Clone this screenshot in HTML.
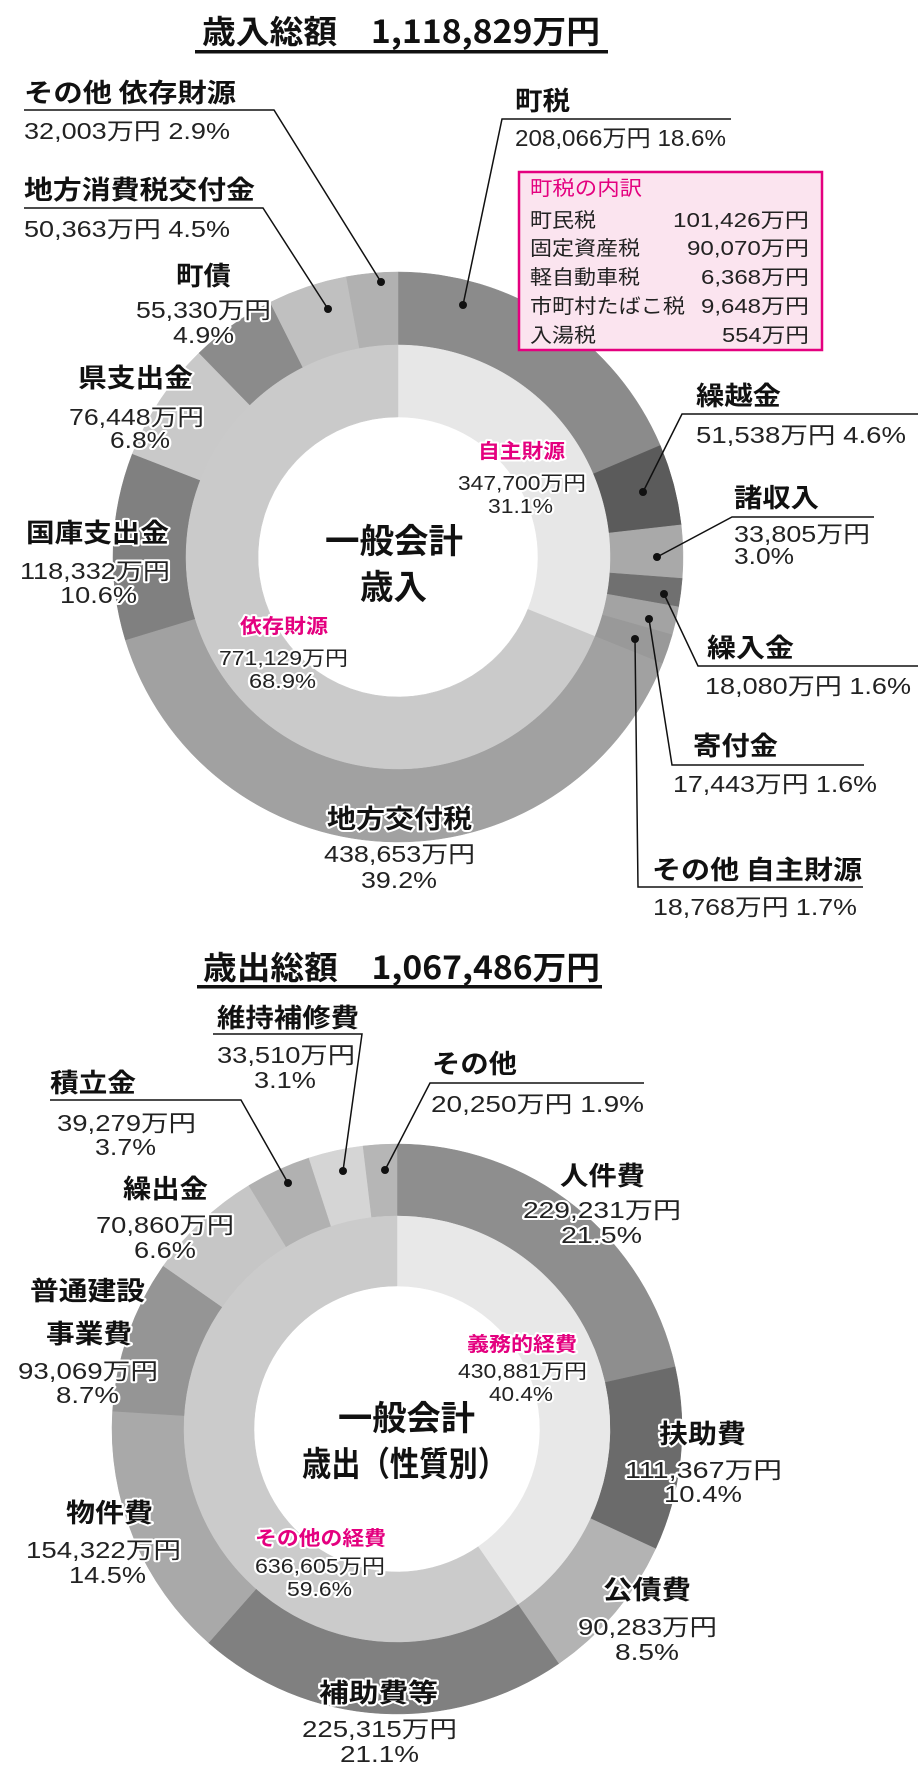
<!DOCTYPE html>
<html><head><meta charset="utf-8"><style>
html,body{margin:0;padding:0;background:#fff;}
svg{display:block;}
.b{font-family:"Noto Sans CJK JP","Liberation Sans",sans-serif;font-weight:bold;fill:#111;}
.v{font-family:"Liberation Sans","Noto Sans CJK JP",sans-serif;fill:#222;}
.p{font-family:"Noto Sans CJK JP",sans-serif;font-weight:bold;fill:#e4007f;}
.h{stroke:#fff;stroke-width:4px;paint-order:stroke;stroke-linejoin:round;}
.ln{stroke:#111;stroke-width:1.5;fill:none;}
</style></head><body>
<svg id="s" width="918" height="1769" viewBox="0 0 918 1769" xmlns="http://www.w3.org/2000/svg">
<g id="rings"></g>

<!-- ===== TOP ===== -->
<text class="b" x="202" y="43" font-size="32" textLength="398" lengthAdjust="spacingAndGlyphs">歳入総額　1,118,829万円</text>
<rect x="195" y="50" width="413" height="3.5" fill="#111"/>

<text class="b" x="24" y="102" font-size="26" textLength="212" lengthAdjust="spacingAndGlyphs">その他 依存財源</text>
<polyline class="ln" points="24,110 274,110 381,282"/>
<text class="v" x="24" y="139" font-size="23" textLength="206" lengthAdjust="spacingAndGlyphs">32,003万円 2.9%</text>

<text class="b" x="24" y="199" font-size="26" textLength="231" lengthAdjust="spacingAndGlyphs">地方消費税交付金</text>
<polyline class="ln" points="24,208 263,208 328,309"/>
<text class="v" x="24" y="237" font-size="23" textLength="206" lengthAdjust="spacingAndGlyphs">50,363万円 4.5%</text>

<text class="b h" x="176" y="285" font-size="26" textLength="55" lengthAdjust="spacingAndGlyphs">町債</text>
<text class="v h" x="136" y="318" font-size="23" textLength="135" lengthAdjust="spacingAndGlyphs">55,330万円</text>
<text class="v h" x="173" y="343" font-size="23" textLength="61" lengthAdjust="spacingAndGlyphs">4.9%</text>

<text class="b h" x="78" y="387" font-size="26" textLength="115" lengthAdjust="spacingAndGlyphs">県支出金</text>
<text class="v h" x="69" y="425" font-size="23" textLength="135" lengthAdjust="spacingAndGlyphs">76,448万円</text>
<text class="v h" x="110" y="448" font-size="23" textLength="60" lengthAdjust="spacingAndGlyphs">6.8%</text>

<text class="b h" x="26" y="542" font-size="26" textLength="143" lengthAdjust="spacingAndGlyphs">国庫支出金</text>
<text class="v h" x="20" y="579" font-size="23" textLength="150" lengthAdjust="spacingAndGlyphs">118,332万円</text>
<text class="v h" x="60" y="603" font-size="23" textLength="77" lengthAdjust="spacingAndGlyphs">10.6%</text>

<text class="b h" x="327" y="828" font-size="26" textLength="145" lengthAdjust="spacingAndGlyphs">地方交付税</text>
<text class="v h" x="324" y="862" font-size="23" textLength="151" lengthAdjust="spacingAndGlyphs">438,653万円</text>
<text class="v h" x="361" y="888" font-size="23" textLength="76" lengthAdjust="spacingAndGlyphs">39.2%</text>

<text class="b" x="515" y="110" font-size="26" textLength="55" lengthAdjust="spacingAndGlyphs">町税</text>
<polyline class="ln" points="731,119 502,119 463,305"/>
<text class="v" x="515" y="146" font-size="23" textLength="211" lengthAdjust="spacingAndGlyphs">208,066万円 18.6%</text>

<rect x="519" y="172" width="303" height="178" fill="#fbe4ef" stroke="#e4007f" stroke-width="2.5"/>
<text class="p" x="530" y="195" font-size="20" textLength="112" lengthAdjust="spacingAndGlyphs" style="font-weight:normal">町税の内訳</text>
<g class="v" font-size="20">
<text x="530" y="227" textLength="66" lengthAdjust="spacingAndGlyphs">町民税</text>
<text x="530" y="255" textLength="110" lengthAdjust="spacingAndGlyphs">固定資産税</text>
<text x="530" y="284" textLength="110" lengthAdjust="spacingAndGlyphs">軽自動車税</text>
<text x="530" y="313" textLength="155" lengthAdjust="spacingAndGlyphs">市町村たばこ税</text>
<text x="530" y="342" textLength="66" lengthAdjust="spacingAndGlyphs">入湯税</text>
<text x="673" y="227" textLength="136" lengthAdjust="spacingAndGlyphs">101,426万円</text>
<text x="687" y="255" textLength="122" lengthAdjust="spacingAndGlyphs">90,070万円</text>
<text x="701" y="284" textLength="108" lengthAdjust="spacingAndGlyphs">6,368万円</text>
<text x="701" y="313" textLength="108" lengthAdjust="spacingAndGlyphs">9,648万円</text>
<text x="722" y="342" textLength="87" lengthAdjust="spacingAndGlyphs">554万円</text>
</g>

<text class="b" x="696" y="405" font-size="26" textLength="85" lengthAdjust="spacingAndGlyphs">繰越金</text>
<polyline class="ln" points="918,414 682,414 643,492"/>
<text class="v" x="696" y="443" font-size="23" textLength="210" lengthAdjust="spacingAndGlyphs">51,538万円 4.6%</text>

<text class="b" x="734" y="507" font-size="26" textLength="85" lengthAdjust="spacingAndGlyphs">諸収入</text>
<polyline class="ln" points="874,517 732,517 657,557"/>
<text class="v" x="734" y="542" font-size="23" textLength="136" lengthAdjust="spacingAndGlyphs">33,805万円</text>
<text class="v" x="734" y="564" font-size="23" textLength="60" lengthAdjust="spacingAndGlyphs">3.0%</text>

<text class="b" x="707" y="657" font-size="26" textLength="87" lengthAdjust="spacingAndGlyphs">繰入金</text>
<polyline class="ln" points="918,666 698,666 664,594"/>
<text class="v" x="705" y="694" font-size="23" textLength="206" lengthAdjust="spacingAndGlyphs">18,080万円 1.6%</text>

<text class="b" x="693" y="755" font-size="26" textLength="85" lengthAdjust="spacingAndGlyphs">寄付金</text>
<polyline class="ln" points="864,765 672,765 649,619"/>
<text class="v" x="673" y="792" font-size="23" textLength="204" lengthAdjust="spacingAndGlyphs">17,443万円 1.6%</text>

<text class="b" x="652" y="879" font-size="26" textLength="210" lengthAdjust="spacingAndGlyphs">その他 自主財源</text>
<polyline class="ln" points="863,887 638,887 635,639"/>
<text class="v" x="653" y="915" font-size="23" textLength="204" lengthAdjust="spacingAndGlyphs">18,768万円 1.7%</text>

<g fill="#111">
<circle cx="381" cy="282" r="4"/><circle cx="328" cy="309" r="4"/><circle cx="463" cy="305" r="4"/>
<circle cx="643" cy="492" r="4"/><circle cx="657" cy="557" r="4"/><circle cx="664" cy="594" r="4"/>
<circle cx="649" cy="619" r="4"/><circle cx="635" cy="639" r="4"/>
</g>

<text class="p h" x="478" y="458" font-size="20" textLength="87" lengthAdjust="spacingAndGlyphs">自主財源</text>
<text class="v h" x="458" y="490" font-size="20" textLength="128" lengthAdjust="spacingAndGlyphs">347,700万円</text>
<text class="v h" x="488" y="513" font-size="20" textLength="65" lengthAdjust="spacingAndGlyphs">31.1%</text>
<text class="p h" x="240" y="633" font-size="20" textLength="88" lengthAdjust="spacingAndGlyphs">依存財源</text>
<text class="v h" x="219" y="665" font-size="20" textLength="129" lengthAdjust="spacingAndGlyphs">771,129万円</text>
<text class="v h" x="249" y="688" font-size="20" textLength="67" lengthAdjust="spacingAndGlyphs">68.9%</text>
<text class="b" x="325" y="553" font-size="34" textLength="138" lengthAdjust="spacingAndGlyphs">一般会計</text>
<text class="b" x="360" y="599" font-size="34" textLength="67" lengthAdjust="spacingAndGlyphs">歳入</text>

<!-- ===== BOTTOM ===== -->
<text class="b" x="203" y="979" font-size="32" textLength="397" lengthAdjust="spacingAndGlyphs">歳出総額　1,067,486万円</text>
<rect x="197" y="985" width="405" height="3.5" fill="#111"/>

<text class="b" x="217" y="1027" font-size="26" textLength="142" lengthAdjust="spacingAndGlyphs">維持補修費</text>
<polyline class="ln" points="213,1034 362,1034 343,1171"/>
<text class="v" x="217" y="1063" font-size="23" textLength="138" lengthAdjust="spacingAndGlyphs">33,510万円</text>
<text class="v" x="254" y="1088" font-size="23" textLength="62" lengthAdjust="spacingAndGlyphs">3.1%</text>

<text class="b" x="50" y="1092" font-size="26" textLength="86" lengthAdjust="spacingAndGlyphs">積立金</text>
<polyline class="ln" points="50,1100 241,1100 288,1183"/>
<text class="v" x="57" y="1131" font-size="23" textLength="139" lengthAdjust="spacingAndGlyphs">39,279万円</text>
<text class="v" x="95" y="1155" font-size="23" textLength="61" lengthAdjust="spacingAndGlyphs">3.7%</text>

<text class="b" x="432" y="1073" font-size="26" textLength="85" lengthAdjust="spacingAndGlyphs">その他</text>
<polyline class="ln" points="644,1083 430,1083 385,1170"/>
<text class="v" x="431" y="1112" font-size="23" textLength="213" lengthAdjust="spacingAndGlyphs">20,250万円 1.9%</text>

<g fill="#111"><circle cx="288" cy="1183" r="4"/><circle cx="343" cy="1171" r="4"/><circle cx="385" cy="1170" r="4"/></g>

<text class="b h" x="560" y="1185" font-size="26" textLength="85" lengthAdjust="spacingAndGlyphs">人件費</text>
<text class="v h" x="523" y="1218" font-size="23" textLength="158" lengthAdjust="spacingAndGlyphs">229,231万円</text>
<text class="v h" x="561" y="1243" font-size="23" textLength="81" lengthAdjust="spacingAndGlyphs">21.5%</text>

<text class="b h" x="123" y="1198" font-size="26" textLength="85" lengthAdjust="spacingAndGlyphs">繰出金</text>
<text class="v h" x="96" y="1233" font-size="23" textLength="138" lengthAdjust="spacingAndGlyphs">70,860万円</text>
<text class="v h" x="134" y="1258" font-size="23" textLength="62" lengthAdjust="spacingAndGlyphs">6.6%</text>

<text class="b h" x="30" y="1300" font-size="26" textLength="115" lengthAdjust="spacingAndGlyphs">普通建設</text>
<text class="b h" x="46" y="1343" font-size="26" textLength="86" lengthAdjust="spacingAndGlyphs">事業費</text>
<text class="v h" x="18" y="1379" font-size="23" textLength="140" lengthAdjust="spacingAndGlyphs">93,069万円</text>
<text class="v h" x="56" y="1403" font-size="23" textLength="63" lengthAdjust="spacingAndGlyphs">8.7%</text>

<text class="b h" x="659" y="1443" font-size="26" textLength="87" lengthAdjust="spacingAndGlyphs">扶助費</text>
<text class="v h" x="625" y="1478" font-size="23" textLength="157" lengthAdjust="spacingAndGlyphs">111,367万円</text>
<text class="v h" x="664" y="1502" font-size="23" textLength="78" lengthAdjust="spacingAndGlyphs">10.4%</text>

<text class="b h" x="66" y="1522" font-size="26" textLength="87" lengthAdjust="spacingAndGlyphs">物件費</text>
<text class="v h" x="26" y="1558" font-size="23" textLength="155" lengthAdjust="spacingAndGlyphs">154,322万円</text>
<text class="v h" x="69" y="1583" font-size="23" textLength="77" lengthAdjust="spacingAndGlyphs">14.5%</text>

<text class="b h" x="603" y="1599" font-size="26" textLength="88" lengthAdjust="spacingAndGlyphs">公債費</text>
<text class="v h" x="578" y="1635" font-size="23" textLength="139" lengthAdjust="spacingAndGlyphs">90,283万円</text>
<text class="v h" x="615" y="1660" font-size="23" textLength="64" lengthAdjust="spacingAndGlyphs">8.5%</text>

<text class="b h" x="319" y="1702" font-size="26" textLength="119" lengthAdjust="spacingAndGlyphs">補助費等</text>
<text class="v h" x="302" y="1737" font-size="23" textLength="155" lengthAdjust="spacingAndGlyphs">225,315万円</text>
<text class="v h" x="340" y="1762" font-size="23" textLength="79" lengthAdjust="spacingAndGlyphs">21.1%</text>

<text class="p h" x="467" y="1351" font-size="20" textLength="110" lengthAdjust="spacingAndGlyphs">義務的経費</text>
<text class="v h" x="458" y="1378" font-size="20" textLength="129" lengthAdjust="spacingAndGlyphs">430,881万円</text>
<text class="v h" x="489" y="1401" font-size="20" textLength="64" lengthAdjust="spacingAndGlyphs">40.4%</text>
<text class="p h" x="255" y="1545" font-size="20" textLength="131" lengthAdjust="spacingAndGlyphs">その他の経費</text>
<text class="v h" x="255" y="1573" font-size="20" textLength="130" lengthAdjust="spacingAndGlyphs">636,605万円</text>
<text class="v h" x="287" y="1596" font-size="20" textLength="65" lengthAdjust="spacingAndGlyphs">59.6%</text>
<text class="b" x="338" y="1430" font-size="34" textLength="137" lengthAdjust="spacingAndGlyphs">一般会計</text>
<text class="b" x="302" y="1476" font-size="34" textLength="205" lengthAdjust="spacingAndGlyphs">歳出（性質別）</text>
</svg>
<script>
(function(){
var NS="http://www.w3.org/2000/svg";
var g=document.getElementById("rings");
function arc(cx,cy,r0,r1,a0,a1,col){
  var t0=a0*2*Math.PI/100,t1=a1*2*Math.PI/100;
  function P(r,t){return [cx+r*Math.sin(t),cy-r*Math.cos(t)];}
  var la=(a1-a0)>50?1:0;
  var p1=P(r1,t0),p2=P(r1,t1),p3=P(r0,t1),p4=P(r0,t0);
  var d="M"+p1+"A"+r1+","+r1+" 0 "+la+" 1 "+p2+"L"+p3+"A"+r0+","+r0+" 0 "+la+" 0 "+p4+"Z";
  var e=document.createElementNS(NS,"path");
  e.setAttribute("d",d);e.setAttribute("fill",col);e.setAttribute("stroke",col);e.setAttribute("stroke-width","0.5");
  g.appendChild(e);
}
function donut(cx,cy,R,r1,r0,outer,inner){
  var a=0;outer.forEach(function(s){arc(cx,cy,r1,R,a,a+s[0],s[1]);a+=s[0];});
  a=0;inner.forEach(function(s){arc(cx,cy,r0,r1,a,a+s[0],s[1]);a+=s[0];});
}
donut(398,557,285,212,140,
 [[18.6,"#8b8b8b"],[4.6,"#5b5b5b"],[3.0,"#a9a9a9"],[1.6,"#707070"],[1.6,"#a3a3a3"],[1.7,"#999999"],
  [39.2,"#a1a1a1"],[10.6,"#808080"],[6.8,"#c9c9c9"],[4.9,"#8b8b8b"],[4.5,"#c0c0c0"],[2.9,"#b1b1b1"]],
 [[31.1,"#e7e7e7"],[68.9,"#cacaca"]]);
donut(397,1429,285,213,143,
 [[21.5,"#8e8e8e"],[10.4,"#6b6b6b"],[8.5,"#b3b3b3"],[21.1,"#808080"],[14.5,"#a9a9a9"],[8.7,"#959595"],
  [6.6,"#c6c6c6"],[3.7,"#b1b1b1"],[3.1,"#d5d5d5"],[1.9,"#b6b6b6"]],
 [[40.4,"#e8e8e8"],[59.6,"#cbcbcb"]]);
})();
</script>
</body></html>
